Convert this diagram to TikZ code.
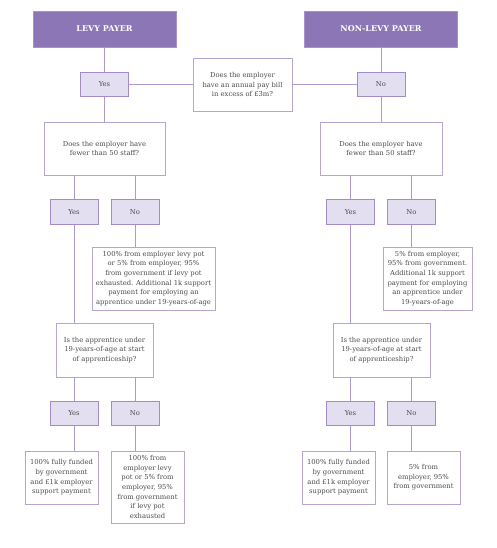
\documentclass[tikz,border=0pt]{standalone}
\usepackage{fontspec}
\setmainfont{DejaVu Serif}
\begin{document}
\begin{tikzpicture}[x=1pt,y=-1pt,
  every node/.style={inner sep=1pt, font=\fontsize{6.8}{9.6}\selectfont, text=black!70, align=center},
  header/.style={draw=hdrline, fill=hdr, line width=0.8pt, text=white, font=\bfseries\fontsize{8}{9}\selectfont},
  qbox/.style={draw=boxline, fill=white, line width=0.8pt},
  ans/.style={draw=ansline, fill=ansfill, line width=0.8pt, minimum width=48pt, minimum height=24.5pt},
  link/.style={draw=linkc, line width=0.8pt}]
\definecolor{hdr}{HTML}{8D76B5}
\definecolor{hdrline}{HTML}{A793CA}
\definecolor{boxline}{HTML}{B6A5D3}
\definecolor{ansline}{HTML}{A28CC7}
\definecolor{ansfill}{HTML}{E4DEF1}
\definecolor{linkc}{HTML}{AD99D0}
\useasboundingbox (0,0) rectangle (496,548);
\fill[white] (0,0) rectangle (496,548);
% headers
\node[header, minimum width=143pt, minimum height=36pt] (levy) at (104.5,29) {LEVY PAYER};
\node[header, minimum width=153pt, minimum height=36pt] (nonlevy) at (381,29) {NON-LEVY PAYER};
% first question
\node[qbox, minimum width=99pt, minimum height=53pt] (q1) at (242.5,84.5) {Does the employer\\have an annual pay bill\\in excess of £3m?};
\node[ans] (yes0) at (104.5,84.5) {Yes};
\node[ans] (no0) at (381,84.5) {No};
% second questions
\node[qbox, minimum width=121pt, minimum height=53pt] (q2L) at (104.5,148.5) {Does the employer have\\fewer than 50 staff?};
\node[qbox, minimum width=122pt, minimum height=53pt] (q2R) at (381,148.5) {Does the employer have\\fewer than 50 staff?};
\node[ans] (yes1L) at (74,212) {Yes};
\node[ans] (no1L) at (135,212) {No};
\node[ans] (yes1R) at (350.5,212) {Yes};
\node[ans] (no1R) at (411.5,212) {No};
\node[qbox, minimum width=123pt, minimum height=63pt] (t1L) at (153.5,278.5) {100\% from employer levy pot\\or 5\% from employer, 95\%\\from government if levy pot\\exhausted. Additional 1k support\\payment for employing an\\apprentice under 19-years-of-age};
\node[qbox, minimum width=89pt, minimum height=63pt] (t1R) at (427.5,278.5) {5\% from employer,\\95\% from government.\\Additional 1k support\\payment for employing\\an apprentice under\\19-years-of-age};
% third questions
\node[qbox, minimum width=97pt, minimum height=54pt] (q3L) at (104.5,350) {Is the apprentice under\\19-years-of-age at start\\of apprenticeship?};
\node[qbox, minimum width=97pt, minimum height=54pt] (q3R) at (381.5,350) {Is the apprentice under\\19-years-of-age at start\\of apprenticeship?};
\node[ans] (yes2L) at (74,413.5) {Yes};
\node[ans] (no2L) at (135,413.5) {No};
\node[ans] (yes2R) at (350.5,413.5) {Yes};
\node[ans] (no2R) at (411.5,413.5) {No};
% results
\node[qbox, minimum width=73pt, minimum height=53pt] (r1) at (61.5,477.5) {100\% fully funded\\by government\\and £1k employer\\support payment};
\node[qbox, minimum width=73pt, minimum height=72pt] (r2) at (147.5,487) {100\% from\\employer levy\\pot or 5\% from\\employer, 95\%\\from government\\if levy pot\\exhausted};
\node[qbox, minimum width=73pt, minimum height=53pt] (r3) at (338.5,477.5) {100\% fully funded\\by government\\and £1k employer\\support payment};
\node[qbox, minimum width=73pt, minimum height=53pt] (r4) at (423.5,477.5) {5\% from\\employer, 95\%\\from government};
% connectors
\path[link] (levy.south) -- (yes0.north);
\path[link] (nonlevy.south) -- (no0.north);
\path[link] (yes0.east) -- (q1.west);
\path[link] (q1.east) -- (no0.west);
\path[link] (yes0.south) -- (q2L.north);
\path[link] (no0.south) -- (q2R.north);
\path[link] (yes1L.north |- q2L.south) -- (yes1L.north);
\path[link] (no1L.north |- q2L.south) -- (no1L.north);
\path[link] (yes1R.north |- q2R.south) -- (yes1R.north);
\path[link] (no1R.north |- q2R.south) -- (no1R.north);
\path[link] (no1L.south) -- (no1L.south |- t1L.north);
\path[link] (no1R.south) -- (no1R.south |- t1R.north);
\path[link] (yes1L.south) -- (yes1L.south |- q3L.north);
\path[link] (yes1R.south) -- (yes1R.south |- q3R.north);
\path[link] (yes2L.north |- q3L.south) -- (yes2L.north);
\path[link] (no2L.north |- q3L.south) -- (no2L.north);
\path[link] (yes2R.north |- q3R.south) -- (yes2R.north);
\path[link] (no2R.north |- q3R.south) -- (no2R.north);
\path[link] (yes2L.south) -- (yes2L.south |- r1.north);
\path[link] (no2L.south) -- (no2L.south |- r2.north);
\path[link] (yes2R.south) -- (yes2R.south |- r3.north);
\path[link] (no2R.south) -- (no2R.south |- r4.north);
\end{tikzpicture}
\end{document}
